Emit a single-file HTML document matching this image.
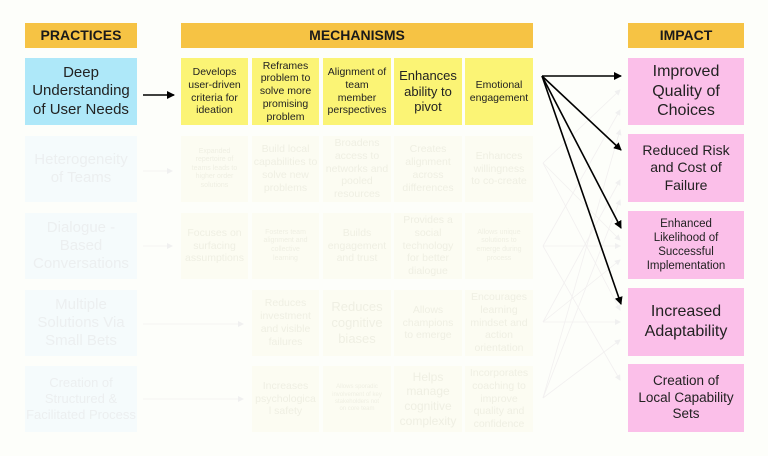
<!DOCTYPE html>
<html><head><meta charset="utf-8"><style>
body{margin:0;width:768px;height:456px;background:#fdfefa;position:relative;overflow:hidden;font-family:"Liberation Sans",sans-serif;}
.b{position:absolute;display:flex;align-items:center;justify-content:center;text-align:center;box-sizing:border-box;line-height:1.22;color:#222;white-space:nowrap;}
.h{background:#f6c344;font-weight:bold;font-size:14px;color:#1a1a1a;}
.p{background:#aee8f9;font-size:15px;}
.y{background:#fbf475;font-size:10.5px;}
.i{background:#fbbfe9;font-size:15px;}
.fp{background:#f5fbfc;color:#eceff0;font-size:15px;}
.fy{background:#fcfcf2;color:#efefe3;font-size:10.5px;}
</style></head><body>
<div class="b h" style="left:25px;top:23px;width:112px;height:25px">PRACTICES</div>
<div class="b h" style="left:181px;top:23px;width:352px;height:25px">MECHANISMS</div>
<div class="b h" style="left:628px;top:23px;width:116px;height:25px">IMPACT</div>

<div class="b p" style="left:25px;top:58px;width:112px;height:67px">Deep<br>Understanding<br>of User Needs</div>
<div class="b y" style="left:181px;top:58px;width:67px;height:67px">Develops<br>user-driven<br>criteria for<br>ideation</div>
<div class="b y" style="left:252px;top:58px;width:67px;height:67px">Reframes<br>problem to<br>solve more<br>promising<br>problem</div>
<div class="b y" style="left:323px;top:58px;width:68px;height:67px">Alignment of<br>team<br>member<br>perspectives</div>
<div class="b y" style="left:394px;top:58px;width:68px;height:67px;font-size:13px">Enhances<br>ability to<br>pivot</div>
<div class="b y" style="left:465px;top:58px;width:68px;height:67px">Emotional<br>engagement</div>

<div class="b fp" style="left:25px;top:136px;width:112px;height:66px">Heterogeneity<br>of Teams</div>
<div class="b fp" style="left:25px;top:213px;width:112px;height:66px">Dialogue -<br>Based<br>Conversations</div>
<div class="b fp" style="left:25px;top:290px;width:112px;height:66px">Multiple<br>Solutions Via<br>Small Bets</div>
<div class="b fp" style="left:25px;top:366px;width:112px;height:66px;font-size:13px">Creation of<br>Structured &amp;<br>Facilitated Process</div>

<div class="b fy" style="left:181px;top:136px;width:67px;height:66px;font-size:7px">Expanded<br>repertoire of<br>teams leads to<br>higher order<br>solutions</div>
<div class="b fy" style="left:252px;top:136px;width:67px;height:66px">Build local<br>capabilities to<br>solve new<br>problems</div>
<div class="b fy" style="left:323px;top:136px;width:68px;height:66px">Broadens<br>access to<br>networks and<br>pooled<br>resources</div>
<div class="b fy" style="left:394px;top:136px;width:68px;height:66px">Creates<br>alignment<br>across<br>differences</div>
<div class="b fy" style="left:465px;top:136px;width:68px;height:66px">Enhances<br>willingness<br>to co-create</div>

<div class="b fy" style="left:181px;top:213px;width:67px;height:66px">Focuses on<br>surfacing<br>assumptions</div>
<div class="b fy" style="left:252px;top:213px;width:67px;height:66px;font-size:7px">Fosters team<br>alignment and<br>collective<br>learning</div>
<div class="b fy" style="left:323px;top:213px;width:68px;height:66px">Builds<br>engagement<br>and trust</div>
<div class="b fy" style="left:394px;top:213px;width:68px;height:66px">Provides a<br>social<br>technology<br>for better<br>dialogue</div>
<div class="b fy" style="left:465px;top:213px;width:68px;height:66px;font-size:7px">Allows unique<br>solutions to<br>emerge during<br>process</div>

<div class="b fy" style="left:252px;top:290px;width:67px;height:66px">Reduces<br>investment<br>and visible<br>failures</div>
<div class="b fy" style="left:323px;top:290px;width:68px;height:66px;font-size:13px">Reduces<br>cognitive<br>biases</div>
<div class="b fy" style="left:394px;top:290px;width:68px;height:66px">Allows<br>champions<br>to emerge</div>
<div class="b fy" style="left:465px;top:290px;width:68px;height:66px">Encourages<br>learning<br>mindset and<br>action<br>orientation</div>

<div class="b fy" style="left:252px;top:366px;width:67px;height:66px">Increases<br>psychologica<br>l safety</div>
<div class="b fy" style="left:323px;top:366px;width:68px;height:66px;font-size:6px">Allows sporadic<br>involvement of key<br>stakeholders not<br>on core team</div>
<div class="b fy" style="left:394px;top:366px;width:68px;height:66px;font-size:12px">Helps<br>manage<br>cognitive<br>complexity</div>
<div class="b fy" style="left:465px;top:366px;width:68px;height:66px">Incorporates<br>coaching to<br>improve<br>quality and<br>confidence</div>

<div class="b i" style="left:628px;top:58px;width:116px;height:67px;font-size:16px">Improved<br>Quality of<br>Choices</div>
<div class="b i" style="left:628px;top:134px;width:116px;height:68px;font-size:14px">Reduced Risk<br>and Cost of<br>Failure</div>
<div class="b i" style="left:628px;top:211px;width:116px;height:68px;font-size:11.5px">Enhanced<br>Likelihood of<br>Successful<br>Implementation</div>
<div class="b i" style="left:628px;top:288px;width:116px;height:68px;font-size:16px">Increased<br>Adaptability</div>
<div class="b i" style="left:628px;top:364px;width:116px;height:68px;font-size:13.5px">Creation of<br>Local Capability<br>Sets</div>

<svg style="position:absolute;left:0;top:0" width="768" height="456">
<defs>
<marker id="a" markerWidth="8" markerHeight="8" refX="7" refY="4" orient="auto" markerUnits="userSpaceOnUse"><path d="M0,0L8,4L0,8z" fill="#000"/></marker>
<marker id="f" markerWidth="6" markerHeight="6" refX="5" refY="3" orient="auto" markerUnits="userSpaceOnUse"><path d="M0,0L6,3L0,6z" fill="#f0f0f0"/></marker>
</defs>
<g stroke="#f2f0f0" stroke-width="0.8" fill="none" marker-end="url(#f)">
<line x1="143" y1="171" x2="172" y2="171"/><line x1="143" y1="246" x2="172" y2="246"/>
<line x1="143" y1="324" x2="243" y2="324"/><line x1="143" y1="399" x2="243" y2="399"/>
<line x1="543" y1="163" x2="620" y2="90"/><line x1="543" y1="163" x2="620" y2="240"/><line x1="543" y1="163" x2="620" y2="310"/>
<line x1="543" y1="246" x2="620" y2="110"/><line x1="543" y1="246" x2="620" y2="246"/><line x1="543" y1="246" x2="620" y2="380"/>
<line x1="543" y1="322" x2="620" y2="180"/><line x1="543" y1="322" x2="620" y2="322"/><line x1="543" y1="322" x2="620" y2="260"/>
<line x1="543" y1="398" x2="620" y2="200"/><line x1="543" y1="398" x2="620" y2="340"/><line x1="543" y1="398" x2="620" y2="130"/>
</g>
<g stroke="#000" stroke-width="1.6" fill="none" marker-end="url(#a)">
<line x1="143" y1="95" x2="174" y2="95"/>
<line x1="542" y1="76" x2="621" y2="76"/>
<line x1="542" y1="76" x2="621" y2="150"/>
<line x1="542" y1="76" x2="621" y2="228"/>
<line x1="542" y1="76" x2="621" y2="304"/>
</g>
</svg>
</body></html>
